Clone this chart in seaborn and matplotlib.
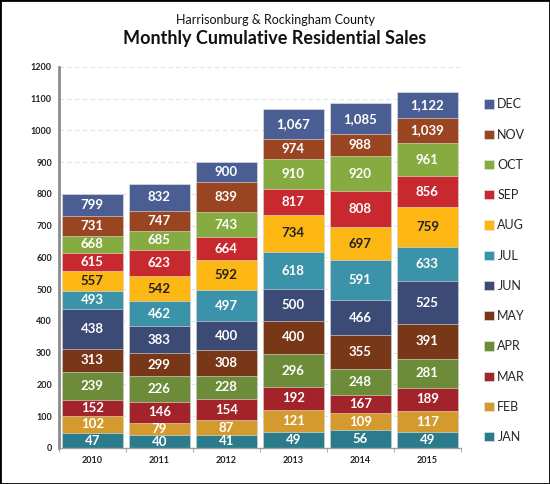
import numpy as np
import pandas as pd
import matplotlib
matplotlib.use("Agg")
import matplotlib.pyplot as plt
import seaborn as sns
from matplotlib.patches import Rectangle

# ==============================
# DATA (cumulative sales per month)
# ==============================
years = ["2010", "2011", "2012", "2013", "2014", "2015"]
months = ["JAN", "FEB", "MAR", "APR", "MAY", "JUN",
          "JUL", "AUG", "SEP", "OCT", "NOV", "DEC"]

sales_2010 = [47, 102, 152, 239, 313, 438, 493, 557, 615, 668, 731, 799]
sales_2011 = [40, 79, 146, 226, 299, 383, 462, 542, 623, 685, 747, 832]
sales_2012 = [41, 87, 154, 228, 308, 400, 497, 592, 664, 743, 839, 900]
sales_2013 = [49, 121, 192, 296, 400, 500, 618, 734, 817, 910, 974, 1067]
sales_2014 = [56, 109, 167, 248, 355, 466, 591, 697, 808, 920, 988, 1085]
sales_2015 = [49, 117, 189, 281, 391, 525, 633, 759, 856, 961, 1039, 1122]

month_colors = ["#2a7b8c", "#d49a2e", "#a3232b", "#6c8c3a", "#783818", "#3c4a76",
                "#3a93a8", "#fcb714", "#c8292f", "#86ab40", "#9a4521", "#4a5e93"]

cum = pd.DataFrame([sales_2010, sales_2011, sales_2012, sales_2013, sales_2014, sales_2015],
                   index=years, columns=months)

# ==============================
# PLOT
# ==============================
sns.set_style("white")
plt.rcParams['font.family'] = ['Lato', 'DejaVu Sans']

fig = plt.figure(figsize=(5.5, 4.84), dpi=100)
ax = fig.add_axes([0.107, 0.0744, 0.731, 0.7872])

# draw tallest first so smaller cumulative bars sit in front
for i in range(len(months) - 1, -1, -1):
    m = months[i]
    sns.barplot(x=years, y=cum[m].values, color=month_colors[i], saturation=1,
                width=0.91, ax=ax, label=m, edgecolor="#e8e8e8", linewidth=0.4)

# labels in the middle of each segment
for xi, yr in enumerate(years):
    prev = 0
    for i, m in enumerate(months):
        v = cum.loc[yr, m]
        txt_col = "#222222" if m == "AUG" else "white"
        ax.text(xi, (prev + v) / 2, f"{v:,}", ha="center", va="center",
                color=txt_col, fontsize=9.5, fontweight="bold")
        prev = v

ax.set_ylim(0, 1200)
ax.set_xlim(-0.5, len(years) - 0.5)
ax.set_yticks(np.arange(0, 1201, 100))
ax.yaxis.grid(True, linestyle=(0, (4, 3)), color="#e4e4e4", linewidth=0.8)
ax.set_axisbelow(True)
for s in ["top", "right"]:
    ax.spines[s].set_visible(False)
ax.spines["left"].set_color("#8c8c8c")
ax.spines["left"].set_linewidth(2)
ax.spines["bottom"].set_color("#a0a0a0")
ax.spines["bottom"].set_linewidth(1)
ax.tick_params(axis="y", labelsize=6.5, length=3, color="#8c8c8c", pad=2)
ax.tick_params(axis="x", labelsize=6.5, length=0, pad=6)
ax.set_xticks(np.arange(-0.5, len(years), 1.0), minor=True)
ax.tick_params(axis="x", which="minor", length=3, color="#a0a0a0", bottom=True)
for lab in ax.get_xticklabels() + ax.get_yticklabels():
    lab.set_fontweight("bold")
    lab.set_color("#222222")

handles, labels = ax.get_legend_handles_labels()
if ax.get_legend():
    ax.get_legend().remove()
fig.legend(handles, labels, loc="upper left", bbox_to_anchor=(0.86, 0.82),
           frameon=False, fontsize=9, handlelength=0.75, handleheight=0.75,
           handletextpad=0.3, labelspacing=1.46)

fig.text(0.5, 0.958, "Harrisonburg & Rockingham County", ha="center", va="center",
         fontsize=9, color="#111111")
fig.text(0.5, 0.92, "Monthly Cumulative Residential Sales", ha="center", va="center",
         fontsize=13, fontweight="bold", color="#111111")

fig.patches.append(Rectangle((0, 0), 1, 1, transform=fig.transFigure, fill=False,
                             edgecolor="black", linewidth=2))

plt.savefig("out.png", dpi=100)
